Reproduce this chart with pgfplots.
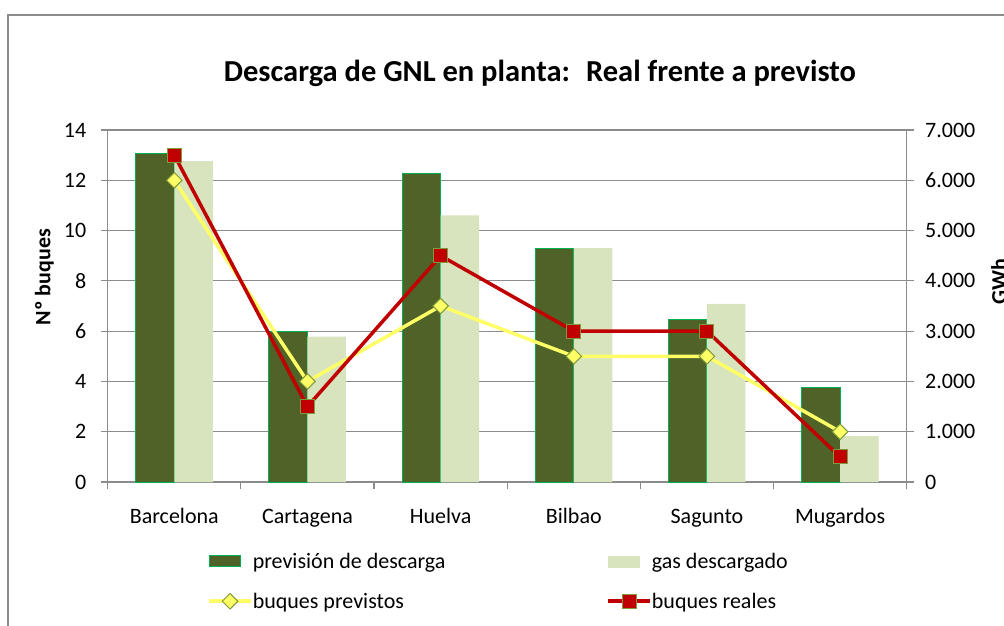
\documentclass[border=0pt]{standalone}
\usepackage{fontspec}
\setmainfont{Carlito}
\usepackage{pgfplots}
\pgfplotsset{compat=1.18}

\definecolor{darkbar}{HTML}{4F6228}
\definecolor{darkedge}{HTML}{00B050}
\definecolor{lightbar}{HTML}{D7E4BD}
\definecolor{yline}{HTML}{FFFF66}
\definecolor{rline}{HTML}{C00000}
\definecolor{mkedge}{HTML}{7F9A3A}
\definecolor{gridgray}{HTML}{8C8C8C}

\newcommand{\chartfont}{\fontsize{22}{26}\selectfont}

\pgfplotsset{
  barlegend/.style={legend image code/.code={\draw[##1] (0pt,-5.5pt) rectangle (31pt,5.5pt);}},
  linelegend/.style={legend image code/.code={\draw[mark repeat=2,mark phase=2,##1] plot coordinates {(0pt,0pt) (21pt,0pt) (42pt,0pt)};}},
  common/.style={
    at={(107.7pt,143pt)}, anchor=south west,
    scale only axis, width=799pt, height=352pt,
    xmin=-0.5, xmax=5.5, ymin=0,
    tick align=outside, major tick length=7pt,
    axis line style={gridgray, line width=1.4pt},
    tick style={gridgray, line width=1.2pt},
    ticklabel style={font=\chartfont},
    /pgf/number format/assume math mode=true,
  },
}

\begin{document}
\begin{tikzpicture}
\useasboundingbox (0pt,0pt) rectangle (1004pt,625pt);
\draw[gridgray, line width=1.2pt] (8pt,-10pt) -- (8pt,610pt) -- (1020pt,610pt);

\node[font=\bfseries\fontsize{30.5}{34}\selectfont, anchor=base] at (540pt,543pt) {Descarga de GNL en planta:~ Real frente a previsto};
\node[font=\bfseries\chartfont, rotate=90] at (44.5pt,348pt) {Nº buques};
\node[font=\bfseries\chartfont, rotate=90] at (999pt,343pt) {GWh};

% bars: GWh (right axis)
\begin{axis}[common,
  ymax=7000,
  axis y line*=right, axis x line*=bottom,
  ytick={0,1000,...,7000},
  yticklabel style={xshift=8pt, /pgf/number format/.cd, fixed, 1000 sep={.}},
  ymajorgrids, major grid style={gridgray, line width=1.2pt},
  xtick={-0.5,0.5,...,5.5}, xticklabels={},
  extra x ticks={0,1,2,3,4,5},
  extra x tick labels={Barcelona,Cartagena,Huelva,Bilbao,Sagunto,Mugardos},
  extra x tick style={major tick length=0pt, xticklabel style={anchor=base, yshift=-41pt}},
  ybar=0pt, bar width=38.5pt,
]
\addplot[fill=darkbar, draw=darkedge, line width=1pt] coordinates {(0,6530) (1,2985) (2,6140) (3,4640) (4,3235) (5,1875)};
\addplot[fill=lightbar, draw=none] coordinates {(0,6380) (1,2890) (2,5300) (3,4650) (4,3540) (5,910)};
\end{axis}

% lines: number of ships (left axis)
\begin{axis}[common,
  ymax=14,
  axis y line*=left, axis x line=none,
  ytick={0,2,...,14},
  yticklabel style={xshift=-11pt},
  legend columns=2, legend cell align=left,
  legend style={at={(0.1206,-0.19)}, anchor=north west, draw=none, fill=none,
    font=\chartfont, row sep=19pt, nodes={inner sep=2pt},
    /tikz/every odd column/.append style={column sep=-2pt},
    /tikz/every even column/.append style={column sep=159pt}},
]
\addlegendimage{barlegend, fill=darkbar, draw=darkedge, line width=1pt}
\addlegendentry{previsión de descarga}
\addlegendimage{barlegend, fill=lightbar, draw=lightbar}
\addlegendentry{gas descargado}
\addplot[linelegend, yline, line width=3.5pt, mark=square*, mark size=5.5pt,
  mark options={fill=yline, draw=mkedge, line width=1pt, rotate=45}]
  coordinates {(0,12) (1,4) (2,7) (3,5) (4,5) (5,2)};
\addlegendentry{buques previstos}
\addplot[linelegend, rline, line width=3.5pt, mark=square*, mark size=7pt,
  mark options={fill=rline, draw=mkedge, line width=1pt}]
  coordinates {(0,13) (1,3) (2,9) (3,6) (4,6) (5,1)};
\addlegendentry{buques reales}
\end{axis}
\end{tikzpicture}
\end{document}
